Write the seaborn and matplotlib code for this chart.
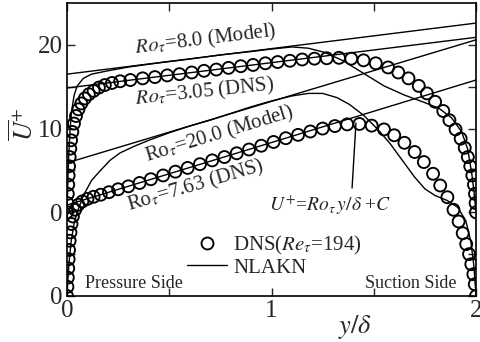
import numpy as np
import pandas as pd
import matplotlib
matplotlib.use("Agg")
import matplotlib.pyplot as plt
import seaborn as sns
from matplotlib.ticker import FixedLocator
from matplotlib.lines import Line2D

# ---------------- data ----------------
# DNS, Ro_tau = 3.05 (upper set, no offset)
x_dns_305 = [0.000, 0.002, 0.004, 0.006, 0.008, 0.010, 0.013, 0.016, 0.020, 0.026,
             0.034, 0.044, 0.056, 0.070, 0.087, 0.107, 0.130, 0.156, 0.185, 0.22,
             0.26, 0.31, 0.37, 0.43, 0.49, 0.55, 0.61, 0.67, 0.73, 0.79,
             0.85, 0.91, 0.97, 1.03, 1.09, 1.15, 1.21, 1.27, 1.33, 1.39,
             1.45, 1.51, 1.57, 1.62, 1.67, 1.72, 1.76, 1.80, 1.84, 1.87,
             1.90, 1.925, 1.945, 1.96, 1.972, 1.982, 1.99, 1.995, 1.998, 2.000]
u_dns_305 = [0.0, 1.1, 2.2, 3.3, 4.4, 5.5, 6.6, 7.6, 8.6, 9.6,
             10.6, 11.5, 12.3, 13.0, 13.6, 14.1, 14.5, 14.9, 15.2, 15.45,
             15.65, 15.8, 16.0, 16.15, 16.35, 16.5, 16.7, 16.9, 17.05, 17.25,
             17.45, 17.6, 17.8, 17.95, 18.1, 18.25, 18.35, 18.4, 18.45, 18.35,
             18.15, 17.8, 17.3, 16.7, 16.0, 15.1, 14.2, 13.2, 12.1, 11.0,
             9.9, 8.8, 7.7, 6.6, 5.5, 4.4, 3.3, 2.2, 1.1, 0.0]

# DNS, Ro_tau = 7.63 (lower set, shifted down by 10)
x_dns_763 = [0.000, 0.002, 0.004, 0.006, 0.008, 0.010, 0.013, 0.017, 0.022, 0.029,
             0.040, 0.055, 0.075, 0.10, 0.13, 0.165, 0.205, 0.25, 0.30, 0.355,
             0.41, 0.47, 0.53, 0.59, 0.65, 0.71, 0.77, 0.83, 0.89, 0.95,
             1.01, 1.07, 1.13, 1.19, 1.25, 1.31, 1.37, 1.43, 1.49, 1.55,
             1.60, 1.65, 1.70, 1.745, 1.79, 1.825, 1.86, 1.89, 1.915, 1.935,
             1.952, 1.966, 1.977, 1.987, 1.994, 2.000]
u_dns_763 = [0.0, 1.1, 2.2, 3.3, 4.4, 5.5, 6.6, 7.6, 8.6, 9.5,
             10.3, 10.9, 11.3, 11.6, 11.85, 12.1, 12.4, 12.75, 13.1, 13.5,
             13.95, 14.4, 14.85, 15.3, 15.75, 16.2, 16.6, 17.05, 17.5, 17.95,
             18.4, 18.85, 19.25, 19.65, 20.0, 20.3, 20.5, 20.55, 20.35, 19.9,
             19.2, 18.3, 17.2, 16.0, 14.6, 13.2, 11.8, 10.3, 8.9, 7.5,
             6.2, 5.0, 3.8, 2.6, 1.4, 0.0]

# NLAKN model, Ro_tau = 8.0 (upper set)
x_mod_8 = [0.0, 0.004, 0.008, 0.014, 0.022, 0.035, 0.05, 0.08, 0.12, 0.2,
           0.3, 0.45, 0.6, 0.75, 0.9, 1.0, 1.1, 1.18, 1.26, 1.35,
           1.45, 1.55, 1.65, 1.75, 1.82, 1.88, 1.93, 1.96, 1.98, 1.99, 2.0]
u_mod_8 = [0.0, 3.5, 6.5, 9.5, 12.0, 14.0, 15.1, 16.0, 16.5, 16.9,
           17.35, 17.85, 18.3, 18.8, 19.2, 19.5, 19.75, 19.6, 19.1, 18.1,
           16.6, 15.1, 14.0, 13.1, 12.4, 11.3, 9.6, 7.5, 4.5, 2.5, 0.0]

# NLAKN model, Ro_tau = 20.0 (lower set)
x_mod_20 = [0.0, 0.005, 0.01, 0.02, 0.035, 0.05, 0.08, 0.12, 0.16, 0.21,
            0.26, 0.33, 0.4, 0.5, 0.6, 0.7, 0.8, 0.9, 1.0, 1.1,
            1.18, 1.25, 1.32, 1.38, 1.45, 1.52, 1.58, 1.64, 1.7, 1.75,
            1.8, 1.86, 1.91, 1.95, 1.975, 1.99, 2.0]
u_mod_20 = [0.0, 2.2, 4.0, 6.5, 8.7, 10.0, 12.0, 13.8, 14.9, 16.2,
            17.1, 17.9, 18.6, 19.5, 20.3, 21.0, 21.8, 22.6, 23.3, 23.9,
            24.2, 24.2, 23.7, 22.9, 21.6, 19.9, 18.2, 16.2, 14.2, 12.8,
            12.0, 11.4, 10.6, 9.0, 6.5, 3.5, 0.0]

# straight lines U+ = Ro_tau y/delta + C (end values at y/delta = 0 and 2)
line_x = [0.0, 2.0]
line_mod_8 = [16.5, 22.6]
line_dns_305 = [14.85, 20.9]
line_mod_20 = [15.9, 30.6]
line_dns_763 = [10.87, 25.8]

offset_upper = 0.0
offset_lower = -10.0

ytick_pos = [-10, 0, 10, 20]
ytick_lab = ["0", "0", "10", "20"]
xtick_pos = [0, 1, 2]
xtick_lab = ["0", "1", "2"]

# ---------------- style ----------------
sns.set_style("ticks")
plt.rcParams["font.family"] = ["Liberation Serif", "DejaVu Serif"]
plt.rcParams["mathtext.fontset"] = "stix"
plt.rcParams["axes.linewidth"] = 1.2

fig = plt.figure(figsize=(4.8, 3.42), dpi=100)
ax = fig.add_axes([67 / 480, 1 - 296 / 342, 409 / 480, 293 / 342])

lw = 1.0
# straight lines
for vals, off in [(line_mod_8, offset_upper), (line_dns_305, offset_upper),
                  (line_mod_20, offset_lower), (line_dns_763, offset_lower)]:
    sns.lineplot(x=line_x, y=np.array(vals) + off, ax=ax, color="black",
                 lw=lw, estimator=None, sort=False)

# model curves
sns.lineplot(x=x_mod_8, y=np.array(u_mod_8) + offset_upper, ax=ax, color="black",
             lw=lw, estimator=None, sort=False)
sns.lineplot(x=x_mod_20, y=np.array(u_mod_20) + offset_lower, ax=ax, color="black",
             lw=lw, estimator=None, sort=False)

# DNS circles
sc_kw = dict(marker="o", s=74, facecolor="none", edgecolor="black", linewidth=1.35,
             ax=ax, zorder=5)
sns.scatterplot(x=x_dns_305, y=np.array(u_dns_305) + offset_upper, **sc_kw)
sns.scatterplot(x=x_dns_763, y=np.array(u_dns_763) + offset_lower, **sc_kw)

ax.set_xlim(0, 2)
ax.set_ylim(-10, 25)

ax.xaxis.set_major_locator(FixedLocator(xtick_pos))
ax.set_xticklabels(xtick_lab)
ax.xaxis.set_minor_locator(FixedLocator([0.5, 1.5]))
ax.yaxis.set_major_locator(FixedLocator(ytick_pos))
ax.set_yticklabels(ytick_lab)
ax.yaxis.set_minor_locator(FixedLocator([-5, 5, 15]))
ax.tick_params(which="both", direction="in", top=True, right=True,
               labelsize=18, width=1.0, pad=3)
ax.tick_params(which="major", length=6)
ax.tick_params(which="minor", length=6)
for sp in ax.spines.values():
    sp.set_visible(True)
    sp.set_color("black")

ax.set_xlabel(r"$y/\delta$", fontsize=19)
ax.xaxis.set_label_coords(0.704, -0.105)
ax.xaxis.label.set_va("center")
ax.set_ylabel(r"$\overline{U}^{+}$", fontsize=19)
ax.yaxis.set_label_coords(-0.07, 0.585)

# annotations
ax.text(0.675, 20.6, r"$Ro_\tau$=8.0 (Model)", fontsize=15, rotation=7,
        ha="center", va="center")
ax.text(0.675, 14.3, r"$Ro_\tau$=3.05 (DNS)", fontsize=15, rotation=6,
        ha="center", va="center")
ax.text(0.745, 9.3, r"Ro$_\tau$=20.0 (Model)", fontsize=15, rotation=17,
        ha="center", va="center")
ax.text(0.63, 3.2, r"Ro$_\tau$=7.63 (DNS)", fontsize=15, rotation=16.5,
        ha="center", va="center")
ax.text(1.286, 0.87, r"$U^{+}$=$Ro_\tau\, y/\delta$ +$C$", fontsize=14,
        ha="center", va="center")
ax.annotate("", xy=(1.413, 10.66), xytext=(1.394, 2.9),
            arrowprops=dict(arrowstyle="-", color="black", lw=1.0,
                            shrinkA=0, shrinkB=0))
ax.text(0.088, -9.05, "Pressure Side", fontsize=13, ha="left", va="baseline")
ax.text(1.907, -9.05, "Suction Side", fontsize=13, ha="right", va="baseline")

# legend
h_dns = Line2D([], [], ls="none", marker="o", ms=8.6, mfc="none", mec="black", mew=1.35)
h_mod = Line2D([], [], color="black", lw=1.0)
ax.legend([h_dns, h_mod], [r"DNS($Re_\tau$=194)", "NLAKN"], loc="center left",
          bbox_to_anchor=(0.293, 0.137), frameon=False, fontsize=15,
          handlelength=1.92, handletextpad=0.3, labelspacing=0.05,
          borderpad=0, borderaxespad=0)

fig.savefig("out.png", dpi=100)
